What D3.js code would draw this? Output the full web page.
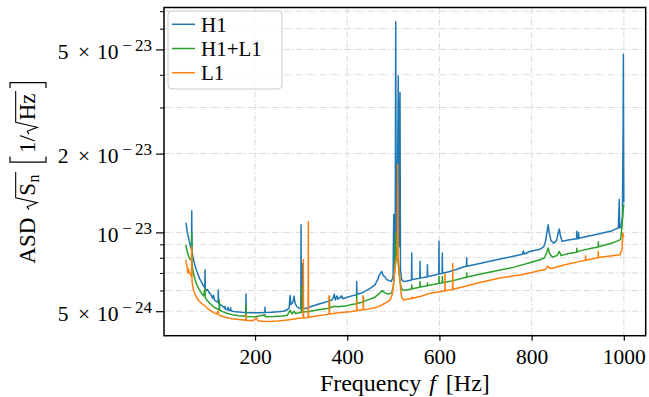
<!DOCTYPE html>
<html>
<head>
<meta charset="utf-8">
<script src="https://cdn.jsdelivr.net/npm/d3@7"></script>
<style>
  body { margin: 0; background: #fff; }
  svg { display: block; }
  text { font-family: "Liberation Serif", "Times New Roman", serif; fill: #000; }
</style>
</head>
<body>
<svg id="chart" width="649" height="397"></svg>
<script>
// Amplitude spectral density of the detector noise, in units of 1e-24 / sqrt(Hz)
const ASD_UNIT = 1e-24;

// [frequency in Hz, ASD]
const h1Points = [
  [50, 10.9], [51.5, 10.5], [53, 10.0], [55, 9.7], [57, 9.3], [59, 9.0], [61, 8.75],
  [62.2, 8.6], [62.7, 12.1], [63.3, 8.5], [65, 8.1], [67, 7.8], [70, 7.45], [73, 7.15],
  [76, 6.95], [79, 6.7], [82, 6.55], [85, 6.4], [88, 6.25], [91, 6.15], [91.5, 7.2],
  [92.1, 6.1], [95, 6.0], [97, 6.05], [100, 5.9], [104, 5.8], [108, 5.6], [110, 5.75],
  [112, 5.5], [116, 5.45], [119.8, 5.4], [120.4, 6.03], [121, 5.35], [125, 5.3],
  [130, 5.22], [134.5, 5.12], [135, 5.22], [135.5, 5.1], [140, 5.06], [141.5, 5.18],
  [142, 5.05], [146, 5.03], [147, 5.15], [148, 5.02], [153, 4.99], [160, 4.97],
  [170, 4.95], [180, 4.94], [180.5, 5.82], [181, 4.94], [190, 4.93], [200, 4.93],
  [210, 4.93], [221.2, 4.94], [221.7, 5.18], [222.2, 4.94], [235, 4.95], [250, 4.97],
  [262, 5.0], [270, 5.06], [274, 5.15], [276, 5.74], [278, 5.3], [282, 5.4],
  [284.6, 5.7], [287, 5.35], [290.5, 5.21], [296, 5.13], [299.3, 5.12], [299.8, 10.7],
  [300.4, 5.12], [303, 5.12], [303.5, 7.6], [304, 5.12], [310, 5.12], [320, 5.2],
  [335, 5.3], [350, 5.4], [365, 5.5], [368, 5.55], [372, 5.8], [374, 5.52], [378, 5.72],
  [380, 5.55], [388, 5.72], [390, 5.58], [400, 5.65], [410, 5.72], [420.2, 5.78],
  [420.6, 6.49], [421, 5.8], [430, 5.85], [442, 6.0], [452, 6.15], [460, 6.3],
  [466, 6.6], [470, 6.9], [474.8, 7.09], [478, 6.85], [482, 6.75], [486, 6.6],
  [490, 6.55], [496, 6.5], [499.5, 6.8], [500.9, 11.7], [502, 7.6], [504, 8.2],
  [505.2, 63.8], [506.3, 9.0], [508, 9.4], [510.8, 39.6], [512, 8.8], [514.5, 34.2],
  [515.5, 7.2], [518, 6.6], [522, 6.49], [530, 6.52], [539.5, 6.58], [540, 8.34],
  [540.5, 6.6], [550, 6.65], [557.5, 6.68], [558, 7.75], [558.5, 6.7], [565, 6.72],
  [573.5, 6.75], [574, 7.52], [574.5, 6.77], [580, 6.82], [590, 6.88], [598.7, 6.93],
  [599.1, 9.24], [599.6, 6.95], [605.8, 6.97], [606.3, 8.34], [606.8, 6.98],
  [620, 7.07], [635, 7.2], [652, 7.37], [658.8, 7.42], [659.2, 7.98], [659.6, 7.43],
  [690, 7.62], [724, 7.86], [760, 8.1], [780, 8.25], [782, 8.5], [784, 8.27],
  [796, 8.45], [818, 8.62], [826, 8.8], [830, 9.2], [834, 10.2], [836, 10.7],
  [838, 10.0], [842, 9.3], [848, 9.1], [854, 9.3], [858, 10.0], [860, 10.3],
  [862, 9.8], [866, 9.25], [880, 9.35], [897.5, 9.45], [898, 10.1], [898.5, 9.45],
  [901.5, 9.45], [902, 10.0], [902.5, 9.5], [920, 9.65], [950, 9.9], [975, 10.15],
  [988, 10.4], [990.2, 13.35], [991, 10.4], [994, 10.5], [997, 11.5], [998.5, 25],
  [999, 47.9], [999.6, 20], [1000, 13]
];

const h1l1Points = [
  [50, 8.97], [52, 8.6], [54, 8.3], [56, 8.1], [58, 7.95], [61, 7.85], [62.2, 7.8],
  [62.7, 9.95], [63.3, 7.6], [65, 7.2], [67, 6.9], [70, 6.6], [73, 6.35], [76, 6.2],
  [80, 6.0], [84, 5.85], [88, 5.72], [91.5, 6.1], [92, 5.62], [96, 5.5], [100, 5.4],
  [105, 5.3], [110, 5.2], [115, 5.13], [122, 5.06], [122.6, 5.52], [123.2, 5.04],
  [130, 4.98], [140, 4.9], [150, 4.85], [165, 4.8], [180, 4.78], [180.5, 5.28],
  [181, 4.77], [200, 4.76], [221.7, 4.85], [222.2, 4.76], [240, 4.77], [260, 4.79],
  [270, 4.82], [276, 5.05], [280, 4.88], [284.6, 5.0], [288, 4.9], [296, 4.93],
  [300.5, 4.95], [301, 6.21], [301.5, 4.95], [305, 4.96], [310, 4.97], [320, 5.0],
  [340, 5.07], [360.7, 5.13], [361.2, 5.72], [361.7, 5.14], [372, 5.22], [380, 5.2],
  [400, 5.25], [410, 5.3], [420.2, 5.34], [420.6, 5.8], [421, 5.35], [434.5, 5.42],
  [434.9, 5.72], [435.3, 5.43], [442, 5.5], [460, 5.65], [470, 5.85], [476, 6.0],
  [480, 5.9], [488, 5.82], [496, 5.85], [500, 6.2], [503, 7.2], [505.2, 9.95],
  [506.5, 7.8], [508.5, 8.6], [510.5, 7.6], [514, 6.6], [517, 6.15], [521, 6.0],
  [539.5, 6.08], [540, 6.3], [540.5, 6.09], [557.5, 6.17], [558, 6.49], [558.5, 6.18],
  [573.5, 6.25], [574, 6.4], [574.5, 6.26], [580, 6.3], [598.7, 6.38], [599.1, 6.78],
  [599.6, 6.39], [605.8, 6.41], [606.3, 6.78], [606.8, 6.42], [623, 6.5], [652, 6.7],
  [658.8, 6.74], [659.2, 6.99], [659.6, 6.75], [700, 7.0], [760, 7.35], [796, 7.65],
  [818, 7.86], [828, 8.0], [833, 8.4], [836, 8.72], [839, 8.3], [845, 8.05],
  [855, 8.15], [860, 8.46], [864, 8.15], [880, 8.3], [897.5, 8.4], [898, 8.7],
  [898.5, 8.42], [905, 8.5], [930, 8.7], [944.4, 8.8], [944.7, 9.2], [945, 8.82],
  [970, 9.05], [988, 9.3], [993, 9.4], [996, 10.5], [998, 11.8], [1000, 12.8]
];

const l1Points = [
  [50, 7.86], [51.5, 7.55], [53, 7.3], [54, 7.0], [55.5, 7.25], [57, 7.05], [59, 6.95],
  [61, 6.85], [62.2, 6.8], [62.7, 8.8], [63.3, 6.5], [65, 6.2], [67, 6.0], [70, 5.8],
  [74, 5.6], [78, 5.48], [82, 5.4], [87, 5.3], [91.5, 5.25], [95, 5.15], [100, 5.08],
  [105, 5.0], [110, 4.94], [116, 4.88], [120.4, 5.0], [121, 4.84], [125, 4.8],
  [135, 4.74], [150, 4.68], [165, 4.65], [180, 4.62], [180.5, 4.84], [181, 4.62],
  [195, 4.6], [200, 4.66], [203, 4.72], [206, 4.6], [215, 4.58], [230, 4.57],
  [250, 4.59], [270, 4.63], [285, 4.67], [295, 4.7], [304.3, 4.71], [304.8, 7.86],
  [305.3, 4.72], [315.1, 4.73], [315.6, 11.0], [316.1, 4.74], [330, 4.78], [350, 4.84],
  [360.7, 4.87], [361.2, 5.72], [361.7, 4.88], [380, 4.93], [406, 4.98], [420.2, 5.02],
  [420.6, 5.52], [421, 5.03], [434.5, 5.06], [434.9, 5.72], [435.3, 5.07], [442, 5.08],
  [460, 5.15], [475, 5.28], [485, 5.4], [493, 5.52], [498, 5.8], [501, 6.5], [504, 7.4],
  [506.5, 7.9], [508.5, 8.2], [509.5, 18.2], [510.5, 8.0], [512, 7.5], [514, 6.7],
  [516, 6.0], [518, 5.65], [522, 5.52], [540, 5.6], [541, 5.66], [542, 5.6], [560, 5.7],
  [580, 5.86], [600, 5.93], [611.7, 5.97], [612.1, 6.95], [612.5, 5.98], [623, 6.02],
  [628.5, 6.05], [628.9, 7.6], [629.3, 6.06], [652, 6.2], [690, 6.45], [731, 6.69],
  [780, 6.9], [796, 6.99], [818, 7.15], [830, 7.22], [834, 7.38], [836, 7.41],
  [839, 7.3], [845, 7.3], [870, 7.5], [905, 7.75], [916.7, 7.82], [917.1, 8.14],
  [917.5, 7.83], [944.3, 8.0], [944.7, 8.46], [945.1, 8.01], [970, 8.12], [992, 8.22],
  [996, 8.6], [998, 9.95], [1000, 9.6]
];

const seriesNames = ["H1", "H1+L1", "L1"];
const seriesColors = ["#1f77b4", "#2ca02c", "#ff7f0e"];

// Axis ticks
const xTicks = [200, 400, 600, 800, 1000];
const yLabeledTicks = [5e-24, 1e-23, 2e-23, 5e-23];
const yTickMantissa = ["5", "", "2", "5"];
const yTickExponent = ["24", "23", "23", "23"];
const yMinorTicks = [6e-24, 7e-24, 8e-24, 9e-24, 3e-23, 4e-23, 6e-23, 7e-23];

const xDomain = [2.5, 1047.5];
const yDomain = [4.03e-24, 7.23e-23];

const svg = d3.select("#chart");
const plot = { left: 164, right: 645.7, top: 7.5, bottom: 335.7 };

const x = d3.scaleLinear().domain(xDomain).range([plot.left, plot.right]);
const y = d3.scaleLog().domain(yDomain).range([plot.bottom, plot.top]);

svg.append("defs").append("clipPath").attr("id", "plot-clip")
  .append("rect")
  .attr("x", plot.left).attr("y", plot.top)
  .attr("width", plot.right - plot.left).attr("height", plot.bottom - plot.top);

// Dash-dot grid at every tick
const grid = svg.append("g")
  .attr("stroke", "#dadada")
  .attr("stroke-width", 1)
  .attr("stroke-dasharray", "6.5,2,1.5,2");
grid.selectAll("line.gx").data(xTicks).join("line").attr("class", "gx")
  .attr("x1", d => x(d)).attr("x2", d => x(d))
  .attr("y1", plot.top).attr("y2", plot.bottom);
grid.selectAll("line.gy").data(yLabeledTicks.concat(yMinorTicks)).join("line").attr("class", "gy")
  .attr("x1", plot.left).attr("x2", plot.right)
  .attr("y1", d => y(d)).attr("y2", d => y(d));

// Spectra
const series = [
  { name: seriesNames[0], color: seriesColors[0], points: h1Points },
  { name: seriesNames[1], color: seriesColors[1], points: h1l1Points },
  { name: seriesNames[2], color: seriesColors[2], points: l1Points }
];
const line = d3.line()
  .x(d => x(d[0]))
  .y(d => y(d[1] * ASD_UNIT));
svg.append("g").attr("clip-path", "url(#plot-clip)")
  .selectAll("path").data(series).join("path")
  .attr("fill", "none")
  .attr("stroke", d => d.color)
  .attr("stroke-width", 1.5)
  .attr("stroke-linejoin", "round")
  .attr("d", d => line(d.points));

// X axis
const xAxis = svg.append("g")
  .attr("transform", `translate(0,${plot.bottom})`)
  .call(d3.axisBottom(x).tickValues(xTicks).tickSize(5).tickFormat(d3.format("d")));
xAxis.select(".domain").remove();
xAxis.selectAll(".tick line").attr("stroke", "#000").attr("stroke-width", 1.2);
xAxis.selectAll(".tick text")
  .attr("y", 28.5).attr("dy", null)
  .style("font-family", "'Liberation Serif', serif")
  .style("font-size", "21.5px")
  .attr("fill", "#000");

// Y axis: labelled and unlabelled ticks
const yAxis = svg.append("g")
  .attr("transform", `translate(${plot.left},0)`)
  .call(d3.axisLeft(y).tickValues(yLabeledTicks).tickSize(8).tickFormat(""));
yAxis.select(".domain").remove();
yAxis.selectAll(".tick line").attr("stroke", "#000").attr("stroke-width", 1.2);
const yAxisMinor = svg.append("g")
  .attr("transform", `translate(${plot.left},0)`)
  .call(d3.axisLeft(y).tickValues(yMinorTicks).tickSize(4).tickFormat(""));
yAxisMinor.select(".domain").remove();
yAxisMinor.selectAll(".tick line").attr("stroke", "#000").attr("stroke-width", 1);

// Tick labels in the form  m × 10^{-e}
const labelRight = 152;
yLabeledTicks.forEach((v, i) => {
  const ty = y(v);
  const g = svg.append("g").style("font-size", "21.5px");
  g.append("text").attr("x", labelRight).attr("y", ty + 1.5)
    .attr("text-anchor", "end").style("font-size", "17px").text(yTickExponent[i]);
  g.append("text").attr("x", labelRight - 25).attr("y", ty + 1.5)
    .attr("text-anchor", "middle").style("font-size", "17px").text("\u2212");
  g.append("text").attr("x", labelRight - 33.5).attr("y", ty + 9.5)
    .attr("text-anchor", "end").text("10");
  if (yTickMantissa[i]) {
    g.append("text").attr("x", labelRight - 68).attr("y", ty + 9.5)
      .attr("text-anchor", "middle").text("\u00d7");
    g.append("text").attr("x", labelRight - 83.5).attr("y", ty + 9.5)
      .attr("text-anchor", "end").text(yTickMantissa[i]);
  }
});

// Frame
svg.append("rect")
  .attr("x", plot.left).attr("y", plot.top)
  .attr("width", plot.right - plot.left).attr("height", plot.bottom - plot.top)
  .attr("fill", "none").attr("stroke", "#000").attr("stroke-width", 1.5);

// X label
const xLabel = svg.append("text")
  .attr("x", (plot.left + plot.right) / 2).attr("y", 391)
  .attr("text-anchor", "middle").style("font-size", "24px");
xLabel.append("tspan").text("Frequency ");
xLabel.append("tspan").attr("dx", 2).style("font-style", "italic").text("f");
xLabel.append("tspan").attr("dx", 4).text(" [Hz]");

// Y label: ASD √S_n [1/√Hz], laid out piece by piece along the rotated baseline
(function drawYLabel() {
  const s = 23;
  const outer = svg.append("g").attr("transform", `translate(35,${(plot.top + plot.bottom) / 2 + 1.5}) rotate(-90)`);
  const g = outer.append("g");
  let cursor = 0;
  const put = (txt, size, dy, gapAfter) => {
    const t = g.append("text").attr("x", cursor).attr("y", dy || 0)
      .style("font-size", size + "px").text(txt);
    const w = t.node().getComputedTextLength();
    cursor += w + (gapAfter || 0);
    return w;
  };
  const radical = (contentEnd, x0) => {
    g.append("path")
      .attr("d", `M${x0},${-0.26 * s} L${x0 + 0.13 * s},${-0.34 * s} L${x0 + 0.3 * s},${0.1 * s} ` +
        `L${x0 + 0.52 * s},${-0.84 * s} L${contentEnd + 1},${-0.84 * s}`)
      .attr("fill", "none").attr("stroke", "#000").attr("stroke-width", 1.1);
  };
  const bracket = (x0, open) => {
    const w = 5.5, top = -25, bottom = 11;
    const d = open
      ? `M${x0 + w},${top} H${x0} V${bottom} H${x0 + w}`
      : `M${x0},${top} H${x0 + w} V${bottom} H${x0}`;
    g.append("path").attr("d", d).attr("fill", "none").attr("stroke", "#000").attr("stroke-width", 1.2);
  };

  put("ASD", s, 0, 8);
  let r0 = cursor;
  cursor += 0.6 * s;
  put("S", s, 0, 0.5);
  put("n", 16, 4, 1.5);
  radical(cursor, r0);
  cursor += 11;
  bracket(cursor, true);
  cursor += 9;
  put("1/", s, 0, 1);
  r0 = cursor;
  cursor += 0.6 * s;
  put("Hz", s, 0, 1.5);
  radical(cursor, r0);
  cursor += 4;
  bracket(cursor, false);
  cursor += 5.5;
  g.attr("transform", `translate(${-cursor / 2},0)`);
})();

// Legend
const legend = svg.append("g");
legend.append("rect")
  .attr("x", 168).attr("y", 11).attr("width", 114).attr("height", 78).attr("rx", 4)
  .attr("fill", "#fff").attr("fill-opacity", 0.8)
  .attr("stroke", "#cccccc").attr("stroke-width", 1);
series.forEach((d, i) => {
  const ly = 24.3 + i * 24.2;
  legend.append("line")
    .attr("x1", 172).attr("x2", 195).attr("y1", ly).attr("y2", ly)
    .attr("stroke", d.color).attr("stroke-width", 1.5);
  legend.append("text")
    .attr("x", 201).attr("y", ly + 7.5)
    .style("font-size", "21px").text(d.name);
});
</script>
</body>
</html>
